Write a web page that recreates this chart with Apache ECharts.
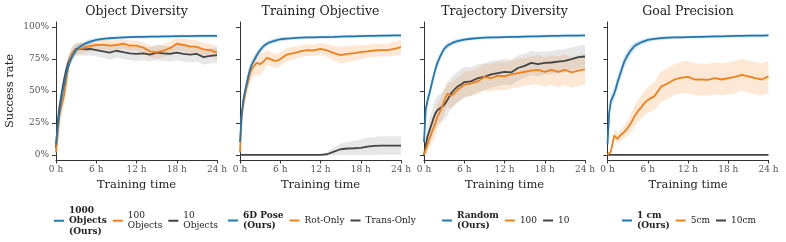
<!DOCTYPE html>
<html>
<head>
<meta charset="utf-8">
<script src="https://cdn.jsdelivr.net/npm/echarts@6/dist/echarts.min.js"></script>
<style>html,body{margin:0;padding:0;background:#fff}#c{width:786px;height:242px}</style>
</head>
<body>
<div id="c"></div>
<script>
// time axis (hours)
const hours = [0,0.25,0.5,0.75,1,1.25,1.5,1.75,2,2.5,3,3.5,4,4.5,5,5.5,6,7,8,9,10,11,12,13,14,15,16,17,18,19,20,21,22,23,24];
const xTicks = [0, 6, 12, 18, 24];
const yTicks = [0, 25, 50, 75, 100];
const panelTitles = ['Object Diversity', 'Training Objective', 'Trajectory Diversity', 'Goal Precision'];

// Panel 1: Object Diversity
const objNames = ['1000\nObjects\n(Ours)', '100\nObjects', '10\nObjects'];
const obj1000 = [8,22,33,42,50,56,63,68,72,78,82,84.5,86,87.5,88.5,89.3,90,90.8,91.3,91.6,91.9,92.1,92.3,92.4,92.5,92.6,92.7,92.8,92.9,93,93,93.1,93.1,93.2,93.2];
const obj1000Sd = [3,5,5,5,5,5,5,4.5,4,3.5,3,2.5,2,2,1.8,1.6,1.5,1.4,1.3,1.2,1.2,1.2,1.2,1.2,1.2,1.2,1.2,1.2,1.2,1.2,1.2,1.2,1.2,1.2,1.2];
const obj100 = [2,15,30,37,42,48,57,66,74,80,82.5,83,83.5,84.5,85,85.5,86,86.3,85.5,86,87,85.5,85.5,84,81,80.5,81.5,83.5,87,86,85,84.5,82.5,82,80];
const obj100Sd = [2,6,8,8,8,8,8,7,6,5,4.5,4,4,4,4,4,4,4,4,4,4,4,4,4,4.5,5,5,5,5,5,5,5,5,5,5];
const obj10 = [5,25,37,45,53,60,66,71,75,80,83,83,83,82.5,83,82.5,82,81,80,81.5,80.5,79.5,79,79.5,78.5,80,79.5,79,80,79,78.5,79,76.5,77.5,78];
const obj10Sd = [4,5,5,5,5,5,5,5,5,5,5,5,5,5,5,5,5,5,5.5,5.5,5.5,5.5,5.5,5.5,5.5,6,6,6,6,6,6,6,6,6,6];

// Panel 2: Training Objective
const objvNames = ['6D Pose\n(Ours)', 'Rot-Only', 'Trans-Only'];
const pose6d = [10,32,43,50,56,62,67,70.5,73,78,82,85,87,88.2,89,89.8,90.5,91,91.4,91.7,91.9,92,92.1,92.2,92.3,92.5,92.7,92.8,93,93.1,93.2,93.3,93.4,93.5,93.5];
const pose6dSd = [3,4,4,4,4,4,3.5,3.5,3,3,2.5,2.5,2,2,1.8,1.6,1.5,1.4,1.3,1.2,1.2,1.2,1.2,1.2,1.2,1.2,1.2,1.2,1.2,1.2,1.2,1.2,1.2,1.2,1.2];
const rotOnly = [2,30,40,47,53,58,64,67,69,72,71,73,76,75,74,73.5,75,78.5,79.7,81,82,81.7,83,81.7,79.6,78,79,79.6,80.4,81,81.7,82,82,83,84.3];
const rotOnlySd = [2,5,6,6,6,7,7,8,8,9,9,7,6,5.5,5.5,5.5,5.5,5,5,4.5,4.5,4.5,4.5,5,6,6.5,6.5,6,5.5,5,5,5,5,5.5,6];
const transOnly = [0,0,0,0,0,0,0,0,0,0,0,0,0,0,0,0,0,0,0,0,0,0,0,0.5,2.6,4.4,5,5.2,5.5,6.5,7,7.3,7.3,7.3,7.3];
const transOnlySd = [0.3,0.3,0.3,0.3,0.3,0.3,0.3,0.3,0.3,0.3,0.3,0.3,0.3,0.3,0.3,0.3,0.3,0.3,0.3,0.3,0.3,0.3,0.3,1.5,3.4,4.6,5,5.8,6.5,7,7,7.2,7.2,7.2,7.2];

// Panel 3: Trajectory Diversity
const trajNames = ['Random\n(Ours)', '100', '10'];
const trajRandom = [10,35,42,47,52,58,63,68,72,78,83,85.5,87,88.2,89,89.6,90.2,90.9,91.4,91.7,91.9,92,92.2,92.3,92.4,92.6,92.7,92.8,93,93.1,93.2,93.3,93.4,93.4,93.5];
const trajRandomSd = [3,4,4,4,4,4,4,4,3.5,3,2.5,2.5,2,2,1.8,1.6,1.5,1.4,1.3,1.2,1.2,1.2,1.2,1.2,1.2,1.2,1.2,1.2,1.2,1.2,1.2,1.2,1.2,1.2,1.2];
const traj100 = [0,4,8,12,15,19,22,26,30,35,42,48,46,48,51,53,55,56,57.5,61,60,62,61.4,63,64,65,66,66.6,65,66.6,65,66.6,64.5,66,67];
const traj100Sd = [1,4,6,7,8,9,10,10,10,10,10,10,10,10,10,10,10,10,10,10.5,10.5,11,11,11,11,11,11,11.5,11.5,11.5,12,12,12,12,12];
const traj10 = [0,7,14,18,22,26,30,33,35,37,39,43,48,51,53.5,55,57,57.5,60,61,63,64,65,64.5,68,69.7,72,71,72,72.3,73,73.6,75,76.5,77];
const traj10Sd = [1,5,8,9,10,10,11,11,11,11,12,12,12,12,12,12,12,11,11,10.5,10.5,10,10,10,10,9.5,9.5,9.5,9,9,9,9,9,9,9];

// Panel 4: Goal Precision
const goalNames = ['1 cm\n(Ours)', '5cm', '10cm'];
const goal1cm = [8,33,42,45,48,52,57,61,65,73,78,82,85,86.7,88,89,90,90.8,91.4,91.7,91.9,92,92.2,92.3,92.4,92.6,92.7,92.8,93,93.1,93.2,93.3,93.4,93.4,93.5];
const goal1cmSd = [3,5,5,5,5,5,5,5,5,4.5,4,3.5,3,2.5,2,1.8,1.6,1.5,1.4,1.3,1.2,1.2,1.2,1.2,1.2,1.2,1.2,1.2,1.2,1.2,1.2,1.2,1.2,1.2,1.2];
const goal5cm = [0,1,2.6,9,15,15.5,12.5,14.4,15.6,18,21,25,30,34,37,40.5,43,46,53.5,56,59,60.5,61,59,59,58.7,60,59,60,61,62.7,61.4,60,59,61.4];
const goal5cmSd = [0.5,1,2,3,4,4,4,4,4.5,5,6,7,8,8.5,9,9.5,10,11,12,12,12,12.5,12.5,12.5,12.5,12.5,12.5,12.5,12.5,12.5,12.5,12.5,12.5,12.5,12.5];
const goal10cm = [0,0,0,0,0,0,0,0,0,0,0,0,0,0,0,0,0,0,0,0,0,0,0,0,0,0,0,0,0,0,0,0,0,0,0];
const goal10cmSd = [0.3,0.3,0.3,0.3,0.3,0.3,0.3,0.3,0.3,0.3,0.3,0.3,0.3,0.3,0.3,0.3,0.3,0.3,0.3,0.3,0.3,0.3,0.3,0.3,0.3,0.3,0.3,0.3,0.3,0.3,0.3,0.3,0.3,0.3,0.3];

const BLUE = '#1f77b4', ORANGE = '#f28018', GREY = '#444444';
const BAND = { [BLUE]: 'rgba(31,119,180,0.18)', [ORANGE]: 'rgba(242,128,24,0.18)', [GREY]: 'rgba(120,120,120,0.18)' };
const FONT = "'DejaVu Serif', serif";

const panels = [
  { names: objNames, means: [obj1000, obj100, obj10], sds: [obj1000Sd, obj100Sd, obj10Sd] },
  { names: objvNames, means: [pose6d, rotOnly, transOnly], sds: [pose6dSd, rotOnlySd, transOnlySd] },
  { names: trajNames, means: [trajRandom, traj100, traj10], sds: [trajRandomSd, traj100Sd, traj10Sd] },
  { names: goalNames, means: [goal1cm, goal5cm, goal10cm], sds: [goal1cmSd, goal5cmSd, goal10cmSd] }
];
const colors = [BLUE, ORANGE, GREY];

const gridLefts = [56, 240, 424, 607.5];
const gridW = 161, gridTop = 22, gridH = 138;
const legendLefts = [54, 228, 442, 622];

function bandSeries(pi, mean, sd, color) {
  const lo = mean.map((v, i) => Math.max(0, v - sd[i]));
  const hi = mean.map((v, i) => v + sd[i]);
  return {
    type: 'custom', xAxisIndex: pi, yAxisIndex: pi, silent: true, z: 1, clip: true,
    data: [[0, 0]],
    renderItem: (params, api) => {
      const pts = [];
      for (let i = 0; i < hours.length; i++) pts.push(api.coord([hours[i], hi[i]]));
      for (let i = hours.length - 1; i >= 0; i--) pts.push(api.coord([hours[i], lo[i]]));
      const cs = params.coordSys;
      return {
        type: 'polygon', shape: { points: pts },
        style: { fill: color },
        clipPath: { type: 'rect', shape: { x: cs.x, y: cs.y, width: cs.width, height: cs.height } }
      };
    }
  };
}

const grids = [], xAxes = [], yAxes = [], series = [], legends = [], graphics = [];
panels.forEach((p, pi) => {
  grids.push({ left: gridLefts[pi], top: gridTop, width: gridW, height: gridH });
  xAxes.push({
    type: 'value', gridIndex: pi, min: 0, max: 24, interval: 6,
    name: 'Training time', nameLocation: 'middle', nameGap: 18,
    nameTextStyle: { fontFamily: FONT, fontSize: 11.5, color: '#222', verticalAlign: 'top' },
    axisLine: { onZero: false, lineStyle: { color: '#333', width: 1 } },
    axisTick: { length: 3.5, lineStyle: { color: '#333' } },
    axisLabel: { margin: 5, fontFamily: FONT, fontSize: 9, color: '#555', formatter: v => v + ' h' },
    splitLine: { show: false }
  });
  yAxes.push({
    type: 'value', gridIndex: pi, min: -4, max: 104,
    name: pi === 0 ? 'Success rate' : '', nameLocation: 'middle', nameGap: 40,
    nameTextStyle: { fontFamily: FONT, fontSize: 11.5, color: '#222' },
    axisLine: { show: true, lineStyle: { color: '#333', width: 1 } },
    axisTick: { show: true, length: 4, lineStyle: { color: '#333' }, customValues: yTicks },
    axisLabel: { show: pi === 0, margin: 7, fontFamily: FONT, fontSize: 9, color: '#555', formatter: '{value}%', customValues: yTicks },
    splitLine: { show: false }
  });
  p.means.forEach((m, si) => series.push(bandSeries(pi, m, p.sds[si], BAND[colors[si]])));
  p.means.forEach((m, si) => {
    series.push({
      name: p.names[si], type: 'line', xAxisIndex: pi, yAxisIndex: pi,
      data: m.map((v, i) => [hours[i], v]), symbol: 'none',
      itemStyle: { color: colors[si] },
      lineStyle: { color: colors[si], width: 1.8 }, z: 3 + (2 - si)
    });
  });
  legends.push({
    data: p.names, left: legendLefts[pi], top: pi === 0 ? 205 : 210, orient: 'horizontal', padding: 0,
    icon: 'rect', itemWidth: 10, itemHeight: 2, itemGap: 6, selectedMode: false,
    formatter: name => name.indexOf('(Ours)') >= 0 ? name.split('\n').map(s => '{b|' + s + '}').join('\n') : name,
    textStyle: {
      fontFamily: FONT, fontSize: 9, color: '#222', lineHeight: 10.5,
      rich: { b: { fontFamily: FONT, fontSize: 9, fontWeight: 'bold', color: '#222', lineHeight: 10.5 } }
    }
  });
  graphics.push({
    type: 'text', x: gridLefts[pi] + gridW / 2, y: 12,
    style: { text: panelTitles[pi], fontFamily: FONT, fontSize: 12.5, fill: '#222', textAlign: 'center', textVerticalAlign: 'middle' }
  });
});

const chart = echarts.init(document.getElementById('c'), null, { renderer: 'canvas' });
chart.setOption({
  animation: false,
  grid: grids, xAxis: xAxes, yAxis: yAxes, series: series, legend: legends,
  graphic: graphics
});
</script>
</body>
</html>
